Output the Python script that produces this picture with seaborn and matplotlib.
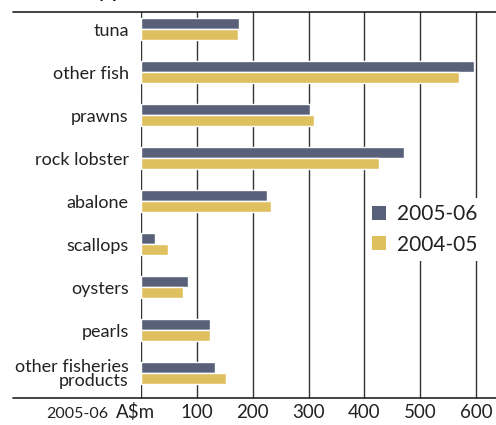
import matplotlib
matplotlib.use("Agg")
import matplotlib.pyplot as plt
import seaborn as sns
import pandas as pd
from matplotlib.patches import Patch
from matplotlib.lines import Line2D

categories = ["tuna", "other fish", "prawns", "rock lobster", "abalone",
              "scallops", "oysters", "pearls", "other fisheries\nproducts"]
series_names = ["2005-06", "2004-05"]
values_2005_06 = [176, 596, 302, 471, 225, 25, 84, 123, 132]
values_2004_05 = [173, 569, 310, 426, 232, 48, 75, 123, 152]
tick_values = [100, 200, 300, 400, 500, 600]

colors = ["#596079", "#DFC05F"]

df = pd.DataFrame({
    "category": categories * 2,
    "series": [series_names[0]] * len(categories) + [series_names[1]] * len(categories),
    "value": values_2005_06 + values_2004_05,
})

sns.set_theme(style="white")
plt.rcParams["font.family"] = ["Lato", "DejaVu Sans"]

W, H = 496, 425
fig = plt.figure(figsize=(W / 100, H / 100), dpi=100)
x0, x1 = 141.3, 496
y_top, y_bot = 12, 398
ax = fig.add_axes([x0 / W, (H - y_bot) / H, (x1 - x0) / W, (y_bot - y_top) / H])

sns.barplot(data=df, y="category", x="value", hue="series", orient="h",
            palette=colors, width=0.51, gap=0, saturation=1, ax=ax, legend=False)

px_per_unit = (476 - 141.3) / 600
ax.set_xlim(0, (x1 - x0) / px_per_unit)
ax.set_ylim(8.58, -0.40)
for s in ax.spines.values():
    s.set_visible(False)
ax.set_xlabel("")
ax.set_ylabel("")
ax.set_xticks([])
ax.tick_params(axis="y", length=0, pad=9, labelsize=13, labelcolor="#222222")
for lab in ax.get_yticklabels():
    lab.set_linespacing(0.85)

# vertical grid lines (0 .. 600)
for v in [0] + tick_values:
    ax.axvline(v, color="#333333", lw=1.0, zorder=0)

# horizontal rules across the figure
fig.add_artist(Line2D([13 / W, 1], [(H - y_top) / H] * 2, color="#222222", lw=1.2))
fig.add_artist(Line2D([13 / W, 1], [(H - y_bot) / H] * 2, color="#222222", lw=1.2))

# x tick labels below
ytl = (H - 412) / H
for v in tick_values:
    xf = (x0 + v * px_per_unit) / W
    fig.text(xf, ytl, str(v), ha="center", va="center", fontsize=13.5, color="#222222")
fig.text(108 / W, ytl - 0.004, "2005-06", ha="right", va="center", fontsize=11.5, color="#222222")
fig.text(116 / W, ytl, "A$m", ha="left", va="center", fontsize=13.5, color="#222222")

# cut-off title fragment
fig.text(88 / W, (H + 2) / H, "by product", ha="left", va="baseline",
         fontsize=13, fontweight="bold", color="#111111")

handles = [Patch(facecolor=c, edgecolor="none") for c in colors]
leg = ax.legend(handles, series_names, loc="upper left",
                bbox_to_anchor=(366 / W, (H - 198) / H), bbox_transform=fig.transFigure,
                frameon=True, fontsize=15, handlelength=0.65, handleheight=0.65,
                handletextpad=0.55, labelspacing=0.5, borderpad=0.3, borderaxespad=0)
leg.get_frame().set_facecolor("white")
leg.get_frame().set_edgecolor("none")
leg.get_frame().set_alpha(1)
for t in leg.get_texts():
    t.set_color("#222222")

fig.savefig("out.png", dpi=100)
